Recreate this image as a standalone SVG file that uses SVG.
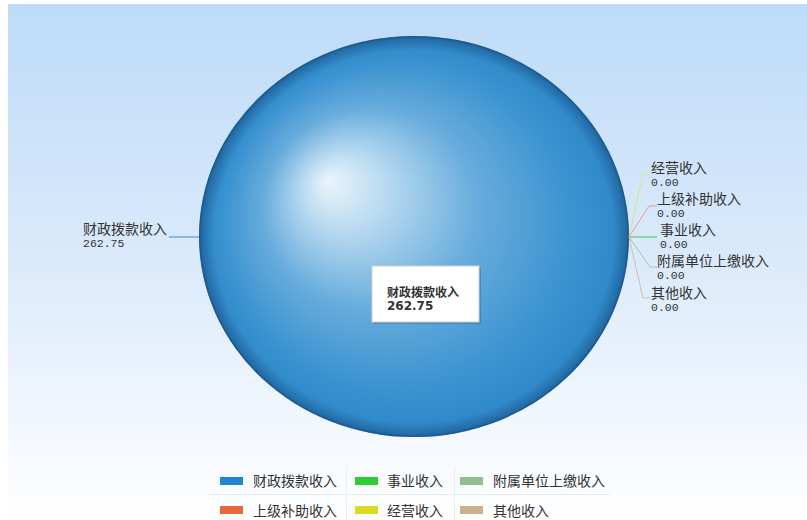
<svg xmlns="http://www.w3.org/2000/svg" width="807" height="520" viewBox="0 0 807 520">
<defs>
<linearGradient id="bg" x1="0" y1="0" x2="0" y2="1">
<stop offset="0" stop-color="#bddbf8"/>
<stop offset="0.5" stop-color="#dbeafb"/>
<stop offset="1" stop-color="#ffffff"/>
</linearGradient>
<radialGradient id="sphere" cx="0.5" cy="0.5" r="0.5" fx="0.298" fy="0.36">
<stop offset="0" stop-color="#eaf5fb"/>
<stop offset="0.18" stop-color="#bcdcf1"/>
<stop offset="0.5" stop-color="#67acdc"/>
<stop offset="0.82" stop-color="#3a92d0"/>
<stop offset="1" stop-color="#2d86c6"/>
</radialGradient>
<radialGradient id="rim" cx="0.5" cy="0.5" r="0.5">
<stop offset="0" stop-color="#14467a" stop-opacity="0"/>
<stop offset="0.93" stop-color="#14467a" stop-opacity="0"/>
<stop offset="0.985" stop-color="#14467a" stop-opacity="0.4"/>
<stop offset="1" stop-color="#123e6e" stop-opacity="0.7"/>
</radialGradient>
</defs>
<style>
.lbl{font-family:"Noto Sans CJK SC","Liberation Sans",sans-serif;font-size:14px;fill:#333}
.num{font-family:"Liberation Mono","DejaVu Sans Mono",monospace;font-size:11.5px;fill:#333}
.leg{font-family:"Noto Sans CJK SC","Liberation Sans",sans-serif;font-size:14px;fill:#333}
.tip{font-family:"DejaVu Sans","Noto Sans CJK SC",sans-serif;font-size:12px;font-weight:bold;fill:#333}
.conn{fill:none;stroke-width:1}
.sep{stroke:#e6edf4;stroke-width:1}
</style>
<rect x="8" y="4" width="799" height="516" fill="url(#bg)"/>

<g id="pie">
<ellipse cx="414" cy="236.5" rx="215" ry="200.5" fill="url(#sphere)"/>
<ellipse cx="414" cy="236.5" rx="215" ry="200.5" fill="url(#rim)"/>
</g>

<g id="connectors">
<line class="conn" x1="169" y1="237" x2="199" y2="237" stroke="#3a8cc4"/>
<polyline class="conn" points="629,237 643,174 650,174" stroke="#dde46a" stroke-opacity="0.9"/>
<polyline class="conn" points="629,237 649,206 657,206" stroke="#f08a70" stroke-opacity="0.8"/>
<polyline class="conn" points="629,237 657,237" stroke="#44cc44"/>
<polyline class="conn" points="629,237 650,267 657,267" stroke="#a8bca8" stroke-opacity="0.9"/>
<polyline class="conn" points="629,237 643,298 650,298" stroke="#d4b898" stroke-opacity="0.9"/>
</g>

<g id="label-czbk">
<text class="lbl" x="83" y="234">财政拨款收入</text>
<text class="num" x="83" y="247">262.75</text>
</g>
<g id="label-jy">
<text class="lbl" x="651" y="173">经营收入</text>
<text class="num" x="651" y="186">0.00</text>
</g>
<g id="label-sjbz">
<text class="lbl" x="657" y="204">上级补助收入</text>
<text class="num" x="657" y="217">0.00</text>
</g>
<g id="label-sy">
<text class="lbl" x="660" y="235">事业收入</text>
<text class="num" x="660" y="248">0.00</text>
</g>
<g id="label-fs">
<text class="lbl" x="657" y="266">附属单位上缴收入</text>
<text class="num" x="657" y="279">0.00</text>
</g>
<g id="label-qt">
<text class="lbl" x="651" y="298">其他收入</text>
<text class="num" x="651" y="311">0.00</text>
</g>

<g id="tooltip">
<rect x="374" y="268" width="107" height="56" fill="#000" fill-opacity="0.15"/>
<rect x="372" y="266" width="107" height="56" fill="#ffffff" stroke="#d0d0d0" stroke-width="1"/>
<text class="tip" x="387" y="297">财政拨款收入</text>
<text class="tip" x="387" y="310">262.75</text>
</g>

<g id="legend">
<line class="sep" x1="208" y1="494.5" x2="610" y2="494.5"/>
<line class="sep" x1="346.5" y1="466" x2="346.5" y2="520"/>
<line class="sep" x1="454.5" y1="466" x2="454.5" y2="520"/>
<rect x="220" y="477" width="23" height="8" fill="#2185cf"/>
<text class="leg" x="253" y="486">财政拨款收入</text>
<rect x="355" y="477" width="23" height="8" fill="#2ecc33"/>
<text class="leg" x="387" y="486">事业收入</text>
<rect x="460" y="477" width="23" height="8" fill="#8fbf8f"/>
<text class="leg" x="493" y="486">附属单位上缴收入</text>
<rect x="220" y="506" width="23" height="8" fill="#f0643c"/>
<text class="leg" x="253" y="516">上级补助收入</text>
<rect x="355" y="506" width="23" height="8" fill="#d9dc22"/>
<text class="leg" x="387" y="516">经营收入</text>
<rect x="460" y="506" width="23" height="8" fill="#d0b08a"/>
<text class="leg" x="493" y="516">其他收入</text>
</g>
</svg>
